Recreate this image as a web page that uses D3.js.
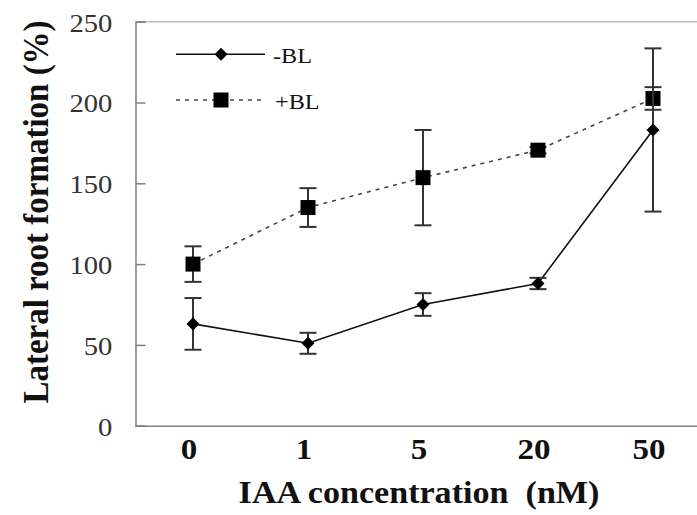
<!DOCTYPE html>
<html>
<head>
<meta charset="utf-8">
<script src="https://cdn.jsdelivr.net/npm/d3@7"></script>
<style>
	body { margin: 0; background: #fff; }
	svg { display: block; overflow: hidden; }
	text { font-family: "Liberation Serif", "Times New Roman", serif; }
</style>
</head>
<body>
<svg id="viz"></svg>
<script>
// values
const categories = ["0", "1", "5", "20", "50"];
const minusBL = [63, 51, 75, 88, 183];
const minusBLErr = [16, 6.5, 7, 3.5, 50.5];
const plusBL = [100, 135, 153.5, 170.5, 202.5];
const plusBLErr = [11, 12, 29.5, 2, 7];
const yTicks = [0, 50, 100, 150, 200, 250];

const width = 697;
const height = 515;

// plot area (the right side runs past the picture edge)
const plot = { left: 135.5, right: 710.5, top: 21.7, bottom: 425.7 };

const svg = d3.select("svg#viz")
	.attr("width", width)
	.attr("height", height);

const x = d3.scaleBand()
	.domain(categories)
	.range([plot.left, plot.right]);

const y = d3.scaleLinear()
	.domain([0, 250])
	.range([plot.bottom, plot.top]);

let translate = function(a, b) {
	return "translate(" + a + "," + b + ")";
};

// frame: top border light gray
svg.append("line")
	.attr("x1", plot.left).attr("x2", width)
	.attr("y1", plot.top).attr("y2", plot.top)
	.attr("stroke", "#bdbdbd")
	.attr("stroke-width", 1.5);

// y axis, ticks pointing inward
const yAxis = svg.append("g")
	.attr("transform", translate(plot.left, 0))
	.call(d3.axisLeft(y).tickValues(yTicks).tickSize(-10).tickPadding(21));
yAxis.select(".domain").attr("stroke", "#808080").attr("stroke-width", 1.5);
yAxis.selectAll(".tick line").attr("stroke", "#808080").attr("stroke-width", 1.5);
yAxis.selectAll(".tick text")
	.attr("font-size", 26)
	.attr("fill", "#333")
	.attr("font-family", "Liberation Serif, serif")
	.attr("transform", "scale(1.1,1)")
	.attr("dy", "0.36em");

// x axis, no tick marks
const xAxis = svg.append("g")
	.attr("transform", translate(0, plot.bottom))
	.call(d3.axisBottom(x).tickSize(0));
xAxis.select(".domain").attr("stroke", "#808080").attr("stroke-width", 1.5);
xAxis.selectAll(".tick text")
	.attr("font-size", 30)
	.attr("font-weight", "bold")
	.attr("fill", "#111")
	.attr("font-family", "Liberation Serif, serif")
	.attr("y", 33)
	.attr("dy", 0)
	.attr("transform", "translate(-4,0) scale(1.1,1)");

// axis titles
svg.append("text")
	.attr("transform", translate(419, 503) + " scale(1.1,1)")
	.attr("text-anchor", "middle")
	.attr("font-size", 31)
	.attr("font-weight", "bold")
	.attr("fill", "#111")
	.attr("xml:space", "preserve")
	.text("IAA concentration  (nM)");

svg.append("text")
	.attr("transform", translate(48, 212) + " scale(1.1,1) rotate(-90)")
	.attr("text-anchor", "middle")
	.attr("font-size", 33)
	.attr("font-weight", "bold")
	.attr("fill", "#111")
	.text("Lateral root formation (%)");

const cx = (d, i) => x(categories[i]) + x.bandwidth() / 2;

function drawSeries(values, errs, opts) {
	const g = svg.append("g");
	const line = d3.line()
		.x((d, i) => cx(d, i))
		.y(d => y(d));

	g.append("path")
		.datum(values)
		.attr("fill", "none")
		.attr("stroke", opts.lineColor)
		.attr("stroke-width", opts.lineWidth)
		.attr("stroke-dasharray", opts.dash)
		.attr("d", line);

	// error bars
	const eb = g.selectAll("g.err")
		.data(values)
		.join("g")
		.attr("class", "err")
		.attr("stroke", "#333")
		.attr("stroke-width", 2);
	eb.append("line")
		.attr("x1", cx).attr("x2", cx)
		.attr("y1", (d, i) => y(d + errs[i]))
		.attr("y2", (d, i) => y(d - errs[i]));
	eb.append("line")
		.attr("x1", (d, i) => cx(d, i) - 8.5).attr("x2", (d, i) => cx(d, i) + 8.5)
		.attr("y1", (d, i) => y(d + errs[i])).attr("y2", (d, i) => y(d + errs[i]));
	eb.append("line")
		.attr("x1", (d, i) => cx(d, i) - 8.5).attr("x2", (d, i) => cx(d, i) + 8.5)
		.attr("y1", (d, i) => y(d - errs[i])).attr("y2", (d, i) => y(d - errs[i]));

	g.selectAll("path.mark")
		.data(values)
		.join("path")
		.attr("class", "mark")
		.attr("fill", "#000")
		.attr("d", d3.symbol(d3.symbolSquare, opts.size))
		.attr("transform", (d, i) => translate(cx(d, i), y(d)) + " rotate(" + opts.rot + ")");
}

const plusOpts = { lineColor: "#444", lineWidth: 1.6, dash: "4,5", size: 225, rot: 0 };
const minusOpts = { lineColor: "#111", lineWidth: 1.6, dash: null, size: 85, rot: 45 };

drawSeries(plusBL, plusBLErr, plusOpts);
drawSeries(minusBL, minusBLErr, minusOpts);

// legend
const legend = svg.append("g");
const legendItems = [
	{ label: "-BL", opts: minusOpts, y: 54.3, tx: 273 },
	{ label: "+BL", opts: plusOpts, y: 100, tx: 275 }
];
legendItems.forEach(function(it) {
	legend.append("line")
		.attr("x1", 176).attr("x2", 265)
		.attr("y1", it.y).attr("y2", it.y)
		.attr("stroke", it.opts.lineColor)
		.attr("stroke-width", it.opts.lineWidth)
		.attr("stroke-dasharray", it.opts.dash);
	legend.append("path")
		.attr("d", d3.symbol(d3.symbolSquare, it.opts.size))
		.attr("transform", translate(221, it.y) + " rotate(" + it.opts.rot + ")");
	legend.append("text")
		.attr("transform", translate(it.tx, it.y + 8.5) + " scale(1.1,1)")
		.attr("font-size", 22)
		.attr("fill", "#111")
		.text(it.label);
});
</script>
</body>
</html>
